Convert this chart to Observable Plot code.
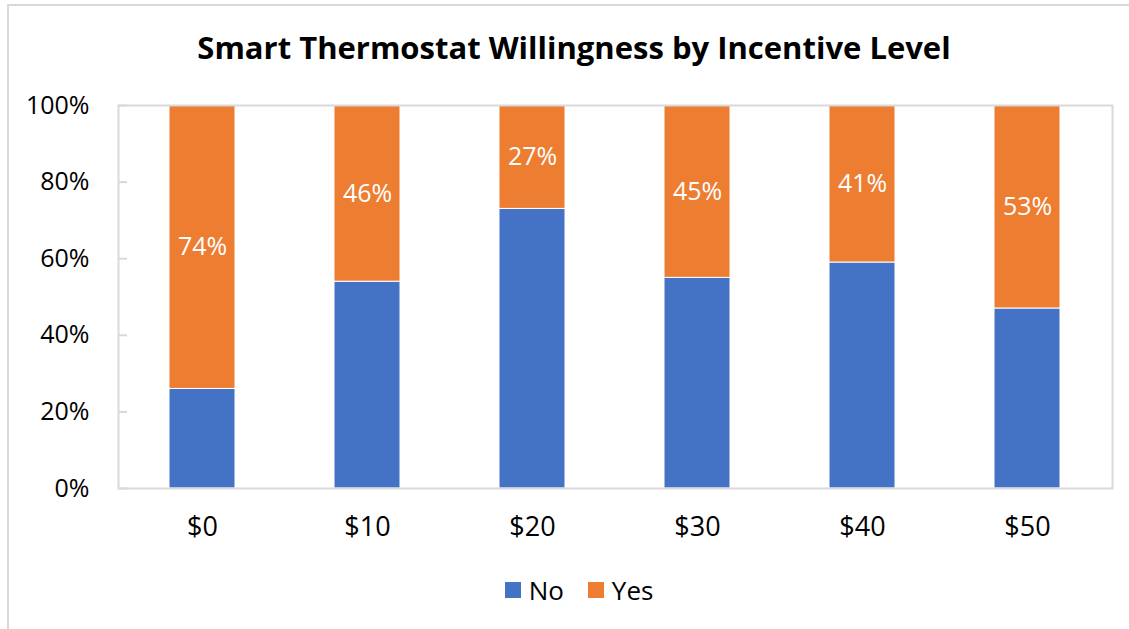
<!DOCTYPE html>
<html>
<head>
<meta charset="utf-8">
<script src="https://cdn.jsdelivr.net/npm/d3@7"></script>
<script src="https://cdn.jsdelivr.net/npm/@observablehq/plot@0.6"></script>
<style>
  html, body { margin: 0; padding: 0; background: #fff; }
  #wrap { position: relative; width: 1129px; height: 629px; overflow: hidden; font-family: "Open Sans", sans-serif; }
  #border { position: absolute; left: 7px; top: 4px; width: 1140px; height: 640px; border: 2px solid #d9d9d9; box-sizing: border-box; }
  #title { position: absolute; left: 0; width: 1148px; top: 26px; text-align: center; font-weight: 700; font-size: 31px; color: #000; }
  #legend { position: absolute; left: 0; width: 1158px; top: 570px; text-align: center; font-size: 26px; color: #000; }
  #legend span.item { display: inline-flex; align-items: center; margin: 0 12px; }
  #legend span.sw { display: inline-block; width: 16px; height: 16px; margin-right: 8px; }
  #chart { position: absolute; left: 0; top: 0; }
</style>
</head>
<body>
<div id="wrap">
  <div id="border"></div>
  <div id="chart"></div>
  <div id="title"></div>
  <div id="legend"></div>
</div>
<script>
const titleText = "Smart Thermostat Willingness by Incentive Level";
const categories = ["$0", "$10", "$20", "$30", "$40", "$50"];
const noValues = [26, 54, 73, 55, 59, 47];
const yesValues = [74, 46, 27, 45, 41, 53];
const seriesNames = ["No", "Yes"];
const seriesColors = ["#4472C4", "#ED7D31"];
const yTicks = [0, 20, 40, 60, 80, 100];

const rows = [];
categories.forEach((c, i) => {
  rows.push({cat: c, answer: "No", value: noValues[i]});
  rows.push({cat: c, answer: "Yes", value: yesValues[i]});
});
const labels = categories.map((c, i) => ({cat: c, mid: noValues[i] + yesValues[i] / 2, text: yesValues[i] + "%"}));

document.getElementById("title").textContent = titleText;

const plot = Plot.plot({
  width: 1129,
  height: 629,
  marginLeft: 118,
  marginRight: 17,
  marginTop: 105,
  marginBottom: 141,
  style: {fontFamily: "Open Sans, sans-serif", fontSize: "25px", color: "#000", background: "transparent"},
  x: {domain: categories, paddingInner: 0.6, paddingOuter: 0.3, label: null},
  y: {domain: [0, 100], label: null},
  color: {domain: seriesNames, range: seriesColors},
  marks: [
    Plot.axisY({ticks: yTicks, tickSize: 0, tickPadding: 29, tickFormat: d => d + "%", fontSize: 25, fill: "#000"}),
    Plot.axisX({tickSize: 0, tickPadding: 28, fontSize: 27, fill: "#000"}),
    Plot.barY(rows, {x: "cat", y: "value", fill: "answer", order: seriesNames, stroke: "#fff", strokeWidth: 1}),
    Plot.ruleY(yTicks, {stroke: "#d9d9d9", strokeWidth: 2, insetRight: 985}),
    Plot.frame({stroke: "#d9d9d9", strokeWidth: 2}),
    Plot.text(labels, {x: "cat", y: "mid", text: "text", fill: "#fff", fontSize: 25})
  ]
});
document.getElementById("chart").appendChild(plot);

const legend = document.getElementById("legend");
seriesNames.forEach((name, i) => {
  const item = document.createElement("span");
  item.className = "item";
  const sw = document.createElement("span");
  sw.className = "sw";
  sw.style.background = seriesColors[i];
  item.appendChild(sw);
  item.appendChild(document.createTextNode(name));
  legend.appendChild(item);
});
</script>
</body>
</html>
